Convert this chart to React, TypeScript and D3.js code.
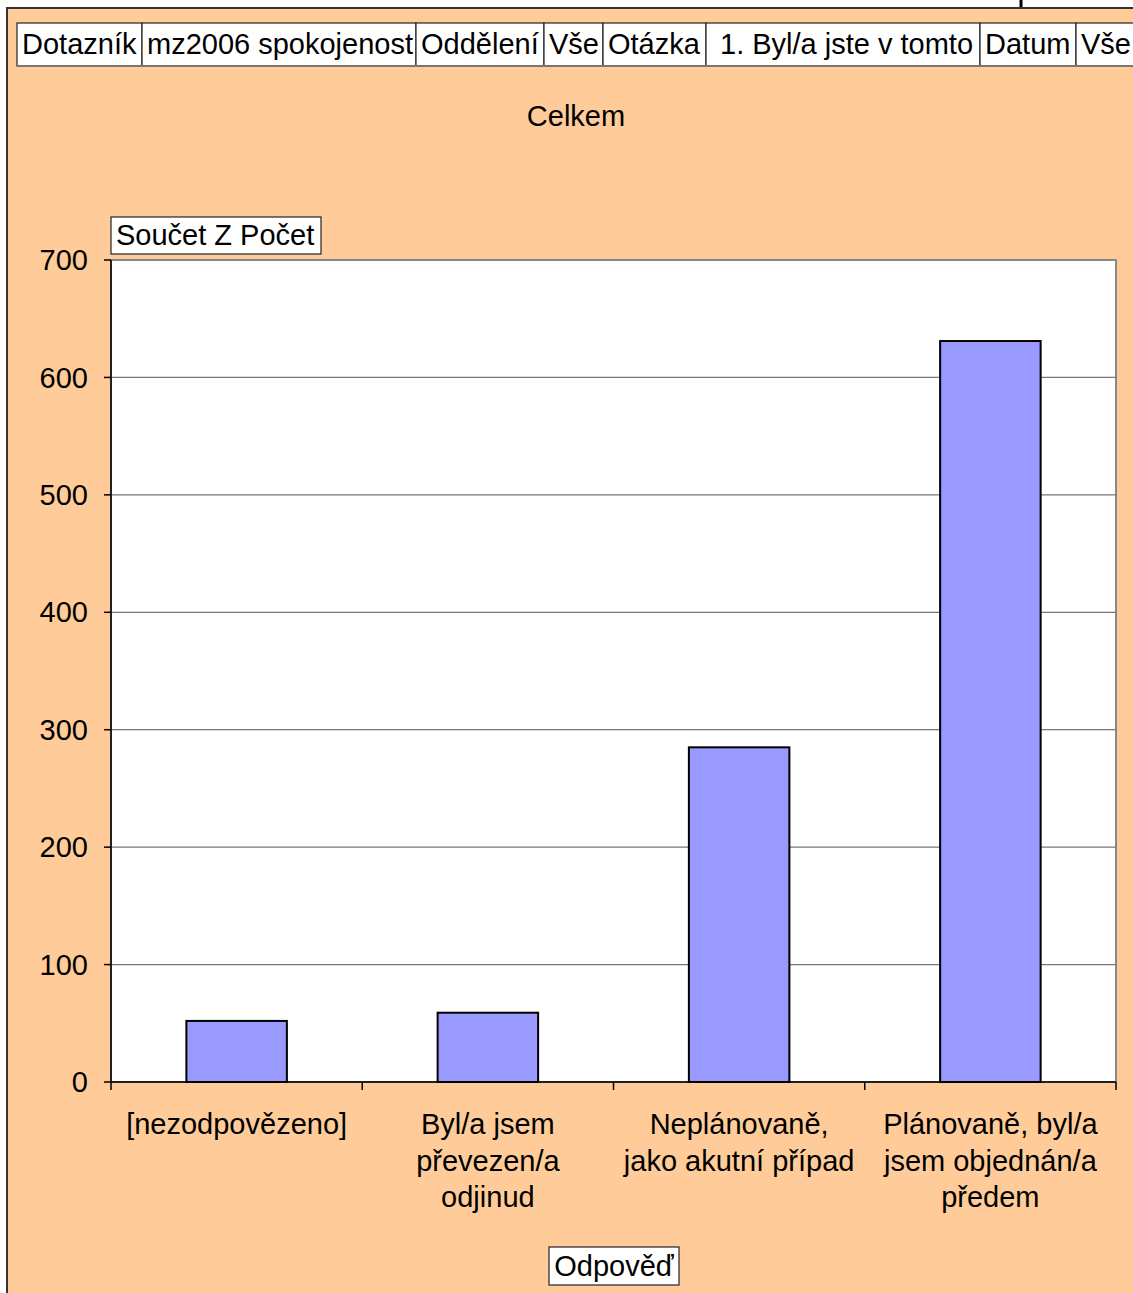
import * as d3 from "d3";
import React from "react";

const categories = [
  ["[nezodpovězeno]"],
  ["Byl/a jsem", "převezen/a", "odjinud"],
  ["Neplánovaně,", "jako akutní případ"],
  ["Plánovaně, byl/a", "jsem objednán/a", "předem"],
];
const values = [52, 59, 285, 631];
const yTicks = [0, 100, 200, 300, 400, 500, 600, 700];
const filterLabels = [
  "Dotazník",
  "mz2006 spokojenost",
  "Oddělení",
  "Vše",
  "Otázka",
  "1. Byl/a jste v tomto",
  "Datum",
  "Vše",
];
const title = "Celkem";
const dataFieldLabel = "Součet Z Počet";
const axisFieldLabel = "Odpověď";

// box edges of the page-field bar at the top
const filterEdges = [17, 142, 416, 544, 603, 706, 980, 1076, 1145];

const W = 1133;
const H = 1293;
const FONT = "'Liberation Sans', Arial, sans-serif";
const FS = 29;

export default function App() {
  const plot = { left: 111, right: 1116, top: 260, bottom: 1082 };

  const x = d3
    .scaleBand<number>()
    .domain(values.map((_, i) => i))
    .range([plot.left, plot.right])
    .padding(0);
  const y = d3.scaleLinear().domain([0, 700]).range([plot.bottom, plot.top]);
  const barW = x.bandwidth() * 0.4;

  return (
    <svg
      width={W}
      height={H}
      style={{ position: "absolute", left: 0, top: 0 }}
      fontFamily={FONT}
    >
      <rect x={0} y={0} width={W} height={H} fill="#fff" />
      <line x1={1021} x2={1021} y1={0} y2={8} stroke="#000" strokeWidth={3} />
      <rect x={7} y={8} width={W} height={H} fill="#FFCC99" stroke="#333" strokeWidth={2} />

      {/* page fields */}
      {filterLabels.map((t, i) => (
        <g key={i}>
          <rect
            x={filterEdges[i]}
            y={23}
            width={filterEdges[i + 1] - filterEdges[i]}
            height={43}
            fill="#fff"
            stroke="#222"
            strokeWidth={1.2}
          />
          <text x={filterEdges[i] + (i === 5 ? 14 : 5)} y={54} fontSize={FS}>
            {t}
          </text>
        </g>
      ))}
      <line x1={17} x2={W} y1={66} y2={66} stroke="#777" strokeWidth={2} />

      <text x={576} y={126} fontSize={FS} textAnchor="middle">
        {title}
      </text>

      {/* plot area */}
      <rect
        x={plot.left}
        y={plot.top}
        width={plot.right - plot.left}
        height={plot.bottom - plot.top}
        fill="#fff"
        stroke="#888"
        strokeWidth={2}
      />
      {yTicks.slice(1, -1).map((t) => (
        <line
          key={t}
          x1={plot.left}
          x2={plot.right}
          y1={y(t)}
          y2={y(t)}
          stroke="#777"
          strokeWidth={1.2}
        />
      ))}

      {values.map((v, i) => (
        <rect
          key={i}
          x={(x(i) ?? 0) + (x.bandwidth() - barW) / 2}
          y={y(v)}
          width={barW}
          height={y(0) - y(v)}
          fill="#9999FF"
          stroke="#000"
          strokeWidth={2}
        />
      ))}

      {/* axes */}
      <line x1={plot.left} x2={plot.left} y1={plot.top} y2={plot.bottom} stroke="#000" strokeWidth={1.5} />
      <line x1={plot.left} x2={plot.right} y1={plot.bottom} y2={plot.bottom} stroke="#000" strokeWidth={1.5} />
      {yTicks.map((t) => (
        <g key={t}>
          <line x1={plot.left - 7} x2={plot.left} y1={y(t)} y2={y(t)} stroke="#000" strokeWidth={1.5} />
          <text x={88} y={y(t)} dy="0.35em" fontSize={FS} textAnchor="end">
            {t}
          </text>
        </g>
      ))}
      {[...values.map((_, i) => x(i) ?? 0), plot.right].map((p, i) => (
        <line key={i} x1={p} x2={p} y1={plot.bottom} y2={plot.bottom + 8} stroke="#000" strokeWidth={1.5} />
      ))}
      {categories.map((lines, i) => (
        <text
          key={i}
          x={(x(i) ?? 0) + x.bandwidth() / 2}
          y={1134}
          fontSize={FS}
          textAnchor="middle"
        >
          {lines.map((l, j) => (
            <tspan key={j} x={(x(i) ?? 0) + x.bandwidth() / 2} dy={j === 0 ? 0 : 36.5}>
              {l}
            </tspan>
          ))}
        </text>
      ))}

      {/* field buttons */}
      <rect x={111} y={217} width={210} height={37} fill="#fff" stroke="#222" strokeWidth={1.2} />
      <text x={116} y={245} fontSize={FS}>
        {dataFieldLabel}
      </text>
      <rect x={549} y={1247} width={130} height={38} fill="#fff" stroke="#222" strokeWidth={1.2} />
      <text x={614} y={1276} fontSize={FS} textAnchor="middle">
        {axisFieldLabel}
      </text>
    </svg>
  );
}
